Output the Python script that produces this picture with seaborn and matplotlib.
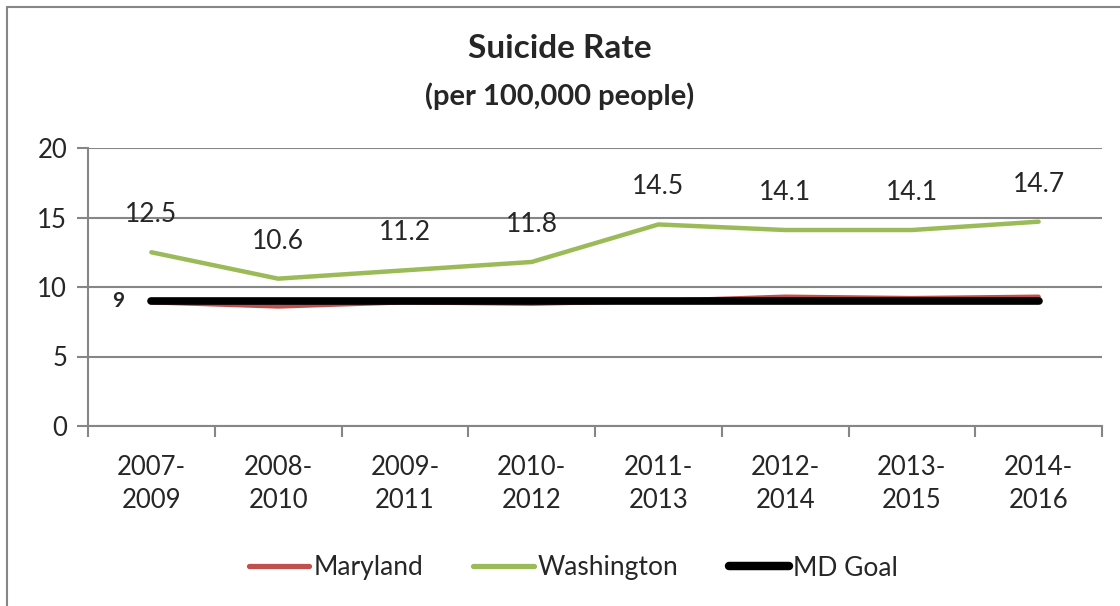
import seaborn as sns
import matplotlib.pyplot as plt
import matplotlib.lines as mlines
import pandas as pd

# -----------------------------------
# Data
# -----------------------------------
periods = ["2007-\n2009", "2008-\n2010", "2009-\n2011", "2010-\n2012",
           "2011-\n2013", "2012-\n2014", "2013-\n2015", "2014-\n2016"]
maryland = [8.9, 8.6, 8.9, 8.8, 9.0, 9.3, 9.2, 9.3]
washington = [12.5, 10.6, 11.2, 11.8, 14.5, 14.1, 14.1, 14.7]
md_goal = [9, 9, 9, 9, 9, 9, 9, 9]

series_names = ["Maryland", "Washington", "MD Goal"]
colors = ["#C0504D", "#9BBB59", "#000000"]
widths = [3.2, 3.2, 5.5]

df = pd.DataFrame({
    "period": periods * 3,
    "x": list(range(len(periods))) * 3,
    "rate": maryland + washington + md_goal,
    "series": ["Maryland"] * 8 + ["Washington"] * 8 + ["MD Goal"] * 8,
})

sns.set_style("white")
plt.rcParams["font.family"] = ["Lato", "DejaVu Sans"]

# -----------------------------------
# Figure
# -----------------------------------
fig = plt.figure(figsize=(11.2, 6.06), dpi=100)
ax = fig.add_axes([88 / 1120, 1 - 426 / 606, (1102 - 88) / 1120, (426 - 148) / 606])

sns.lineplot(
    data=df,
    x="x",
    y="rate",
    hue="series",
    hue_order=series_names,
    palette=dict(zip(series_names, colors)),
    legend=False,
    ax=ax,
)
for line, lw in zip(ax.get_lines(), widths):
    line.set_linewidth(lw)
    line.set_solid_capstyle("round")

# -----------------------------------
# Axes styling
# -----------------------------------
grey = "#868686"
ax.set_xlim(-0.5, len(periods) - 0.5)
ax.set_ylim(0, 20)
ax.set_yticks([0, 5, 10, 15, 20])
ax.set_xticks(range(len(periods)))
ax.set_xticklabels(periods, fontsize=18.5, linespacing=1.4)
ax.set_xticks([i - 0.5 for i in range(len(periods) + 1)], minor=True)
ax.tick_params(axis="x", which="major", length=0, pad=21)
ax.tick_params(axis="x", which="minor", length=8, width=1.5, color=grey, direction="out")
ax.tick_params(axis="y", length=8, width=1.5, color=grey, direction="out", labelsize=18.5, pad=7)
ax.tick_params(bottom=True, left=True, which="both")
ax.grid(axis="y", color=grey, linewidth=1.5)
ax.set_axisbelow(True)
for side in ["top", "right"]:
    ax.spines[side].set_visible(False)
for side in ["left", "bottom"]:
    ax.spines[side].set_color(grey)
    ax.spines[side].set_linewidth(1.5)
ax.set_xlabel("")
ax.set_ylabel("")

# -----------------------------------
# Data labels
# -----------------------------------
for i, v in enumerate(washington):
    ax.annotate(f"{v:.1f}", (i, v), xytext=(0, 27), textcoords="offset points",
                ha="center", va="center", fontsize=19)
ax.annotate(f"{md_goal[0]}", (0, md_goal[0]), xytext=(-24, 0), textcoords="offset points",
            ha="center", va="center", fontsize=15, fontweight="bold")

# -----------------------------------
# Titles
# -----------------------------------
fig.text(0.5, 1 - 49 / 606, "Suicide Rate", ha="center", va="center",
         fontsize=24, fontweight="bold")
fig.text(0.5, 1 - 96 / 606, "(per 100,000 people)", ha="center", va="center",
         fontsize=21, fontweight="bold")

# -----------------------------------
# Legend
# -----------------------------------
handles = [mlines.Line2D([], [], color=c, linewidth=lw + 0.6, solid_capstyle="round")
           for c, lw in zip(colors, widths)]
fig.legend(handles, series_names, loc="center", bbox_to_anchor=(0.512, 1 - 568 / 606),
           ncol=3, frameon=False, fontsize=19, handlelength=2.3, handletextpad=0.15,
           columnspacing=1.9)

# -----------------------------------
# Chart border (top and left visible)
# -----------------------------------
fig.add_artist(mlines.Line2D([7 / 1120, 7 / 1120], [0, 1 - 7 / 606], color=grey, linewidth=1.5))
fig.add_artist(mlines.Line2D([7 / 1120, 1], [1 - 7 / 606, 1 - 7 / 606], color=grey, linewidth=1.5))

plt.savefig("out.png", dpi=100)
